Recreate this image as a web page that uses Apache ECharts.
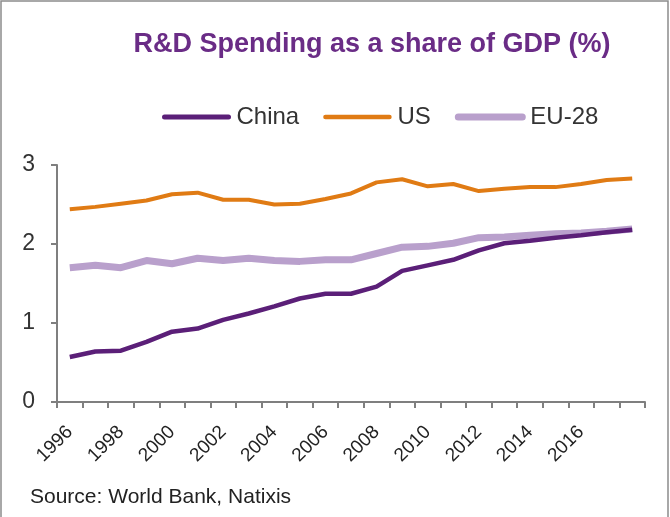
<!DOCTYPE html>
<html>
<head>
<meta charset="utf-8">
<script src="https://cdn.jsdelivr.net/npm/echarts@6/dist/echarts.min.js"></script>
<style>
html,body{margin:0;padding:0;background:#fff;}
#chart{width:670px;height:517px;}
</style>
</head>
<body>
<div id="chart"></div>
<script>
const years = ['1996','1997','1998','1999','2000','2001','2002','2003','2004','2005','2006','2007','2008','2009','2010','2011','2012','2013','2014','2015','2016','2017','2018'];
const china = [0.57,0.64,0.65,0.76,0.89,0.93,1.04,1.12,1.21,1.31,1.37,1.37,1.46,1.66,1.73,1.80,1.92,2.01,2.04,2.08,2.11,2.15,2.18];
const us    = [2.44,2.47,2.51,2.55,2.63,2.65,2.56,2.56,2.50,2.51,2.57,2.64,2.78,2.82,2.73,2.76,2.67,2.70,2.72,2.72,2.76,2.81,2.83];
const eu28  = [1.70,1.73,1.70,1.79,1.75,1.82,1.79,1.82,1.79,1.78,1.80,1.80,1.88,1.96,1.97,2.01,2.08,2.09,2.11,2.13,2.14,2.16,2.19];
const yTicks = [0,1,2,3];

const chart = echarts.init(document.getElementById('chart'), null, {renderer:'canvas'});
const font = 'Liberation Sans, Arial, sans-serif';
chart.setOption({
  animation:false,
  backgroundColor:'#fff',
  textStyle:{fontFamily:font},
  title:{
    text:'R&D Spending as a share of GDP (%)',
    left:367, textAlign:'center', top:26,
    textStyle:{fontFamily:font,fontSize:27,fontWeight:'bold',color:'#6A2C86'}
  },
  legend:{
    top:100, left:157,
    itemWidth:64, itemHeight:14, itemGap:24,
    itemStyle:{color:'rgba(0,0,0,0)',borderColor:'rgba(0,0,0,0)',borderWidth:0},
    textStyle:{fontFamily:font,fontSize:24,color:'#333',padding:[0,0,0,3]},
    data:[
      {name:'China',lineStyle:{width:5,cap:'round'}},
      {name:'US',lineStyle:{width:4.5,cap:'round'}},
      {name:'EU-28',lineStyle:{width:7,cap:'round'}}
    ]
  },
  graphic:[{
    type:'rect', silent:true,
    shape:{x:1,y:1,width:667,height:540},
    style:{fill:'none',stroke:'#8c8c8c',lineWidth:1.5}
  }],
  grid:{left:57,right:25,top:165,bottom:115,containLabel:false},
  xAxis:{
    type:'category', data:years, boundaryGap:true,
    axisLine:{lineStyle:{color:'#7f7f7f',width:2}},
    axisTick:{show:true,interval:0,length:6,lineStyle:{color:'#7f7f7f',width:2}},
    axisLabel:{
      interval:function(i){return i%2===0 && i<21;},
      rotate:45, margin:27, fontSize:19, color:'#222', fontFamily:font
    },
    splitLine:{show:false}
  },
  yAxis:{
    type:'value', min:yTicks[0], max:yTicks[yTicks.length-1], interval:1,
    axisLine:{show:true,lineStyle:{color:'#7f7f7f',width:2}},
    axisTick:{show:true,length:6,lineStyle:{color:'#7f7f7f',width:2}},
    axisLabel:{fontSize:23,color:'#333',margin:22,fontFamily:font},
    splitLine:{show:false}
  },
  series:[
    {name:'EU-28',type:'line',data:eu28,symbol:'none',z:2,
     lineStyle:{color:'#B9A0CC',width:7},itemStyle:{color:'#B9A0CC'}},
    {name:'US',type:'line',data:us,symbol:'none',z:3,
     lineStyle:{color:'#E07B14',width:4},itemStyle:{color:'#E07B14'}},
    {name:'China',type:'line',data:china,symbol:'none',z:4,
     lineStyle:{color:'#5B1F78',width:4.5},itemStyle:{color:'#5B1F78'}}
  ]
});
</script>
<div style="position:absolute;left:30px;top:484px;font-family:'Liberation Sans',Arial,sans-serif;font-size:21px;color:#222;">Source: World Bank, Natixis</div>
</body>
</html>
